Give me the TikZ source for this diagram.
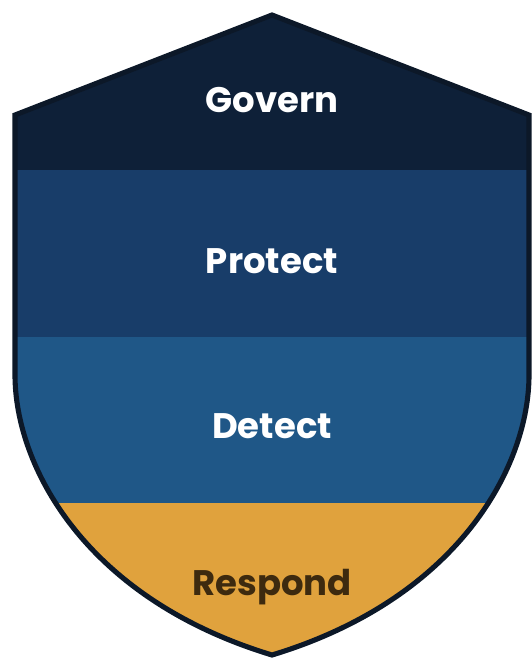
\documentclass[tikz,border=0pt]{standalone}
\usepackage{fontspec}
\setmainfont{Poppins}
\definecolor{govern}{HTML}{0E2038}
\definecolor{protect}{HTML}{183D69}
\definecolor{detect}{HTML}{1F5787}
\definecolor{respond}{HTML}{E0A23D}
\definecolor{rim}{HTML}{0C1828}
\definecolor{resptext}{HTML}{3D2A0F}
\begin{document}
\begin{tikzpicture}[x=0.02cm,y=-0.02cm,
	band/.style={font=\fontsize{20.2}{24}\selectfont\bfseries, anchor=base, inner sep=0pt}]
			\useasboundingbox (0,0) rectangle (531,659);
			\begin{scope}
				\clip (272,15) -- (529,115) -- (529,375) .. controls (529,465) and (460,598) .. (272,655)
					.. controls (84,598) and (15,465) .. (15,375) -- (15,115) -- cycle;
				\fill [govern] (0,0) rectangle (531,170);
				\fill [protect] (0,170) rectangle (531,337);
				\fill [detect] (0,337) rectangle (531,503);
				\fill [respond] (0,503) rectangle (531,659);
			\end{scope}
			\draw [rim, line width=2.9pt, line join=miter] (272,15) -- (529,115) -- (529,375) .. controls (529,465) and (460,598) .. (272,655)
				.. controls (84,598) and (15,465) .. (15,375) -- (15,115) -- cycle;
			\node [band, white] (govern) at (272,112) {Govern};
			\node [band, white] (protect) at (272,273) {Protect};
			\node [band, white] (detect) at (272,438) {Detect};
			\node [band, resptext] (respond) at (272,595) {Respond};
	\end{tikzpicture}
\end{document}
